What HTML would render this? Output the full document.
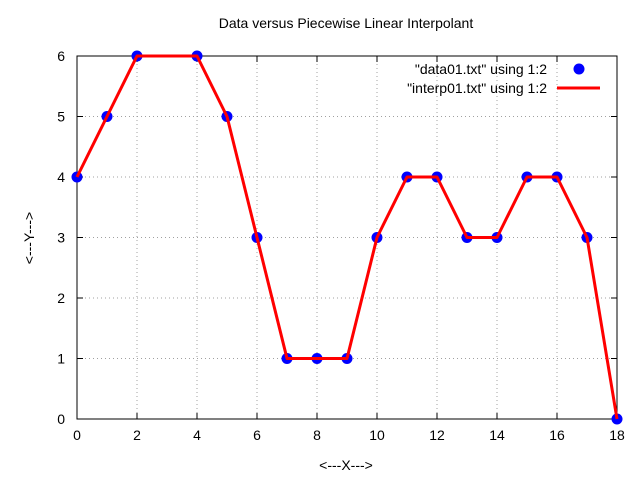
<!DOCTYPE html>
<html><head><meta charset="utf-8"><style>
body{margin:0;background:#fff;}
svg{display:block;font-family:"Liberation Sans",sans-serif;}
</style></head><body>
<svg width="640" height="480" id="chart">
<text x="346" y="28" font-size="14" text-anchor="middle">Data versus Piecewise Linear Interpolant</text>
<text x="346" y="470" font-size="14" text-anchor="middle">&lt;---X---&gt;</text>
<text x="34" y="238" font-size="14" text-anchor="middle" transform="rotate(-90 34 238)">&lt;---Y---&gt;</text>
<g id="grid"></g><g id="ticks"></g>
<rect x="77" y="56" width="540" height="363" fill="none" stroke="#000" stroke-width="1"/>
<g id="series"></g>
<g>
<text x="547" y="74" font-size="14" text-anchor="end">"data01.txt" using 1:2</text>
<circle cx="579" cy="69" r="5.5" fill="#0000ff"/>
<text x="547" y="93" font-size="14" text-anchor="end">"interp01.txt" using 1:2</text>
<line x1="557" y1="88" x2="600" y2="88" stroke="#ff0000" stroke-width="3"/>
</g>
</svg>
<script>
const xs=[0,1,2,4,5,6,7,8,9,10,11,12,13,14,15,16,17,18];
const ys=[4,5,6,6,5,3,1,1,1,3,4,4,3,3,4,4,3,0];
const xTicks=[0,2,4,6,8,10,12,14,16,18];
const yTicks=[0,1,2,3,4,5,6];
const NS="http://www.w3.org/2000/svg";
const X=v=>77+v*30, Y=v=>419-v*60.5;
function mk(t,a,p){const e=document.createElementNS(NS,t);for(const k in a)e.setAttribute(k,a[k]);p.appendChild(e);return e;}
const g=document.getElementById('grid'),tk=document.getElementById('ticks'),s=document.getElementById('series');
xTicks.forEach(v=>{
 if(v>0&&v<18){const l=mk('line',{x1:X(v),x2:X(v),y1:56,y2:419,stroke:'#a0a0a0','stroke-dasharray':'1,3'},g);
 
 }
 const t=mk('text',{x:X(v),y:440,'font-size':14,'text-anchor':'middle'},tk);t.textContent=v;
 
 
 mk('line',{x1:X(v),x2:X(v),y1:419,y2:413,stroke:'#000'},tk);
 mk('line',{x1:X(v),x2:X(v),y1:56,y2:62,stroke:'#000'},tk);
});
yTicks.forEach(v=>{
 if(v>0&&v<6){const l=mk('line',{x1:77,x2:617,y1:Y(v),y2:Y(v),stroke:'#a0a0a0','stroke-dasharray':'1,3'},g);
 
 }
 const t=mk('text',{x:65,y:Y(v)+5,'font-size':14,'text-anchor':'end'},tk);t.textContent=v;
 
 
 mk('line',{x1:77,x2:83,y1:Y(v),y2:Y(v),stroke:'#000'},tk);
 mk('line',{x1:617,x2:611,y1:Y(v),y2:Y(v),stroke:'#000'},tk);
});
xs.forEach((v,i)=>{const c=mk('circle',{cx:X(v),cy:Y(ys[i]),r:5.5,fill:'#0000ff'},s);
 
 });
const pl=mk('polyline',{points:xs.map((v,i)=>X(v)+','+Y(ys[i])).join(' '),fill:'none',stroke:'#ff0000','stroke-width':3,'stroke-linejoin':'round'},s);


</script>
</body></html>
